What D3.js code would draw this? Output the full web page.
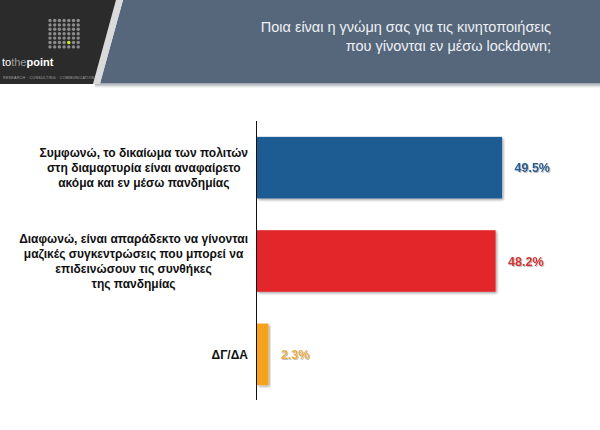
<!DOCTYPE html>
<html>
<head>
<meta charset="utf-8">
<script src="https://cdn.jsdelivr.net/npm/d3@7"></script>
<style>
  body { margin: 0; background: #fff; }
  svg { display: block; }
</style>
</head>
<body>
<svg id="chart" width="600" height="430"></svg>
<script>
// data
var categories = [
		["Συμφωνώ, το δικαίωμα των πολιτών", "στη διαμαρτυρία είναι αναφαίρετο", "ακόμα και εν μέσω πανδημίας"],
		["Διαφωνώ, είναι απαράδεκτο να γίνονται", "μαζικές συγκεντρώσεις που μπορεί να", "επιδεινώσουν τις συνθήκες", "της πανδημίας"],
		["ΔΓ/ΔΑ"]
	],
	values = [49.5, 48.2, 2.3],
	valueLabels = ["49.5%", "48.2%", "2.3%"],
	barColors = ["#1f5b93", "#e3282a", "#f5a21f"],
	labelColors = ["#2b5b8c", "#d23434", "#e9ac45"],
	titleLines = ["Ποια είναι η γνώμη σας για τις κινητοποιήσεις", "που γίνονται εν μέσω lockdown;"];

var svg = d3.select("#chart"),
	axisX = 256.5,
	labelRight = 248;

var defs = svg.append("defs");
var sh = defs.append("filter").attr("id", "shadow")
	.attr("x", "-10%").attr("y", "-10%").attr("width", "130%").attr("height", "130%");
sh.append("feDropShadow").attr("dx", 1.5).attr("dy", 1.5).attr("stdDeviation", 1)
	.attr("flood-color", "#000").attr("flood-opacity", 0.35);
var tsh = defs.append("filter").attr("id", "tshadow");
tsh.append("feDropShadow").attr("dx", 1).attr("dy", 1).attr("stdDeviation", 0.5)
	.attr("flood-color", "#000").attr("flood-opacity", 0.25);
var grad = defs.append("linearGradient").attr("id", "hshade")
	.attr("x1", 0).attr("y1", 0).attr("x2", 0).attr("y2", 1);
grad.append("stop").attr("offset", "0%").attr("stop-color", "#9aa0a8");
grad.append("stop").attr("offset", "100%").attr("stop-color", "#fff");

// header
svg.append("rect").attr("x", 95).attr("y", 83).attr("width", 505).attr("height", 5)
	.attr("fill", "url(#hshade)");
svg.append("polygon").attr("points", "123,0 600,0 600,83 100,83").attr("fill", "#56667b");
svg.append("polygon").attr("points", "116,0 123,0 100,84 93,84").attr("fill", "#d9dadc");
svg.append("polygon").attr("points", "0,0 116,0 93,84 0,84").attr("fill", "#2b2b2b");

// logo dots
var dots = [];
for (var r = 0; r < 7; r++)
	for (var c = 0; c < 7; c++)
		dots.push({r: r, c: c});
svg.append("g").selectAll("circle").data(dots).join("circle")
	.attr("cx", function(d){ return 50 + d.c*4.7; })
	.attr("cy", function(d){ return 20.5 + d.r*4.4; })
	.attr("r", 1.7)
	.attr("fill", function(d){ return (d.r == 5 && d.c == 4) ? "#d4ec2a" : "#8c8c8c"; });

var logo = svg.append("text").attr("x", 2).attr("y", 66)
	.attr("font-family", "Liberation Sans, Arial, sans-serif").attr("font-size", 11);
logo.append("tspan").attr("fill", "#fff").text("to");
logo.append("tspan").attr("fill", "#9a9a9a").text("the");
logo.append("tspan").attr("fill", "#fff").attr("font-weight", "bold").text("point");
svg.append("text").attr("x", 3).attr("y", 78.5)
	.attr("font-family", "Liberation Sans, Arial, sans-serif").attr("font-size", 3.6)
	.attr("fill", "#a8a8a8").attr("letter-spacing", 0.3)
	.text("RESEARCH · CONSULTING · COMMUNICATION");

// title
svg.append("g").selectAll("text").data(titleLines).join("text")
	.attr("x", 551)
	.attr("y", function(d, i){ return 32 + i*18.5; })
	.attr("text-anchor", "end")
	.attr("font-family", "Liberation Sans, Arial, sans-serif")
	.attr("font-size", 14.5)
	.attr("fill", "#eef1f4")
	.text(function(d){ return d; });

// scales
var x = d3.scaleLinear().domain([0, 10]).range([axisX, axisX + 49.5]);
var y = d3.scaleBand().domain(d3.range(values.length))
	.range([121, 401]).paddingInner(0.34).paddingOuter(0.17);

svg.append("g").selectAll("rect").data(values).join("rect")
	.attr("x", x(0) + 0.5)
	.attr("y", function(d, i){ return y(i); })
	.attr("width", function(d){ return x(d) - x(0); })
	.attr("height", y.bandwidth())
	.attr("fill", function(d, i){ return barColors[i]; })
	.attr("filter", "url(#shadow)");

svg.append("line").attr("x1", axisX).attr("x2", axisX)
	.attr("y1", 121).attr("y2", 400)
	.attr("stroke", "#111").attr("stroke-width", 1);

svg.append("g").selectAll("text").data(values).join("text")
	.attr("x", function(d){ return x(d) + 13; })
	.attr("y", function(d, i){ return y(i) + y.bandwidth()/2; })
	.attr("dy", "0.36em")
	.attr("font-family", "Liberation Sans, Arial, sans-serif")
	.attr("font-weight", "bold")
	.attr("font-size", 12.5)
	.attr("fill", function(d, i){ return labelColors[i]; })
	.attr("filter", "url(#tshadow)")
	.text(function(d, i){ return valueLabels[i]; });

// category labels: centred block, right edge at labelRight
var lineH = 15;
categories.forEach(function(lines, i){
	var g = svg.append("g");
	var cy = y(i) + y.bandwidth()/2;
	var t = g.selectAll("text").data(lines).join("text")
		.attr("y", function(d, k){ return cy + (k - (lines.length - 1)/2)*lineH; })
		.attr("dy", "0.36em")
		.attr("text-anchor", "middle")
		.attr("font-family", "Liberation Sans, Arial, sans-serif")
		.attr("font-weight", "bold")
		.attr("font-size", 12)
		.attr("fill", "#111")
		.text(function(d){ return d; });
	var maxW = d3.max(t.nodes(), function(n){ return n.getComputedTextLength(); });
	t.attr("x", labelRight - maxW/2);
});
</script>
</body>
</html>
